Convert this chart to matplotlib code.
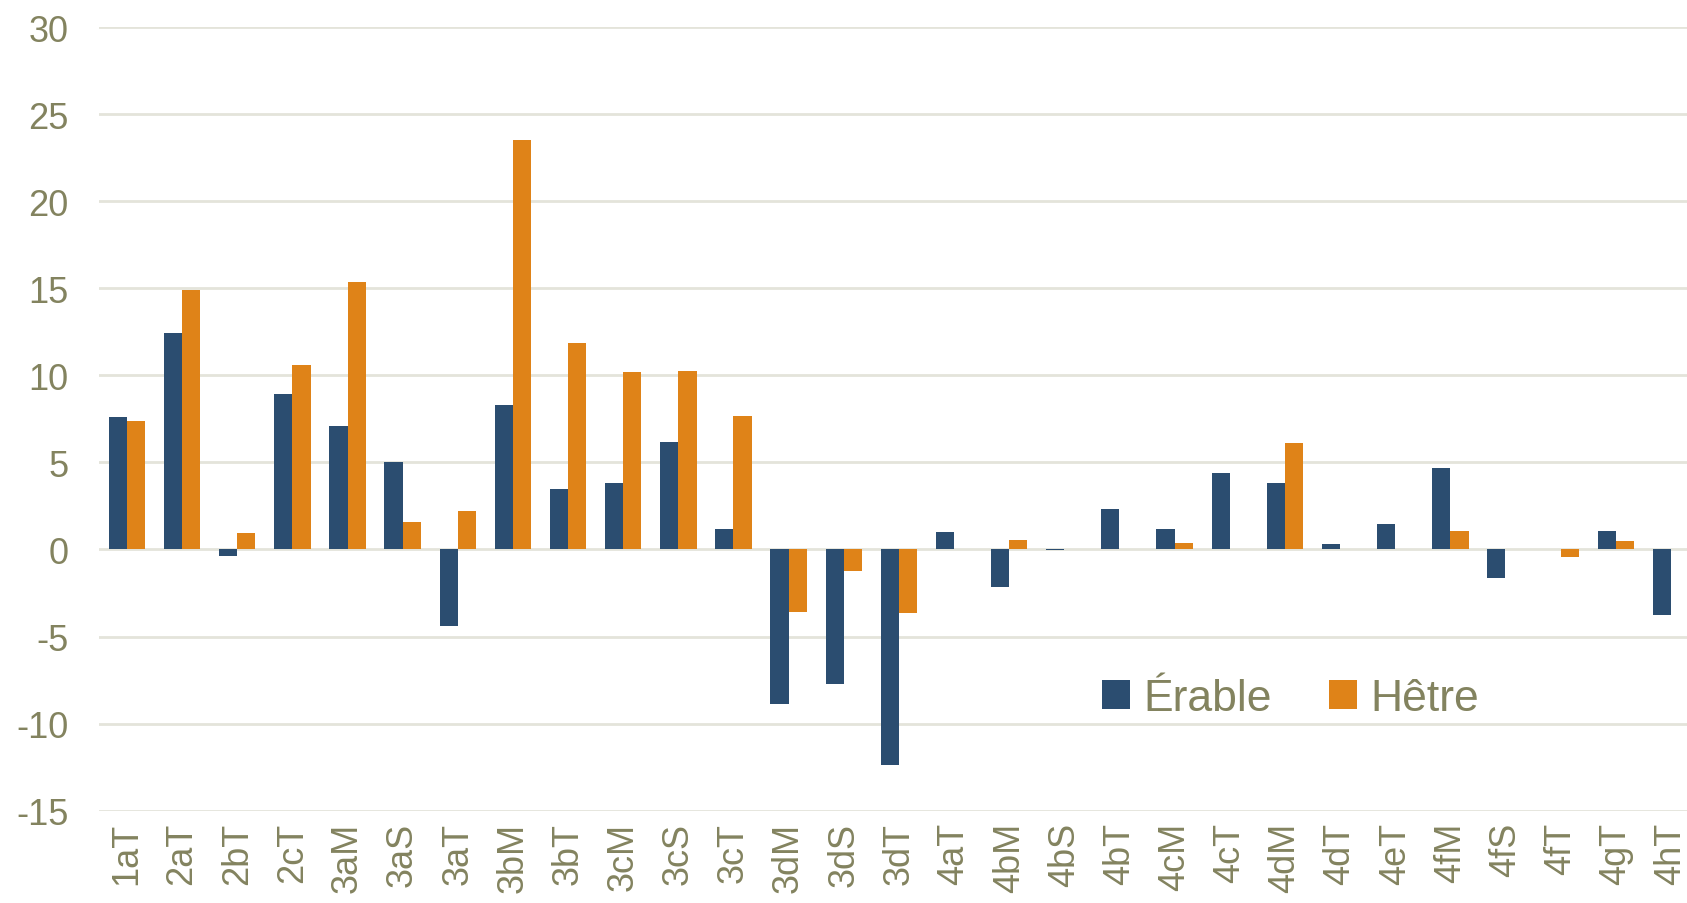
import numpy as np
import matplotlib.pyplot as plt

plt.rcParams['font.family'] = ['Liberation Sans', 'DejaVu Sans']
plt.rcParams['axes.unicode_minus'] = False

categories = ["1aT", "2aT", "2bT", "2cT", "3aM", "3aS", "3aT", "3bM", "3bT", "3cM",
              "3cS", "3cT", "3dM", "3dS", "3dT", "4aT", "4bM", "4bS", "4bT", "4cM",
              "4cT", "4dM", "4dT", "4eT", "4fM", "4fS", "4fT", "4gT", "4hT"]
erable = [7.6, 12.45, -0.4, 8.9, 7.1, 5.05, -4.4, 8.3, 3.5, 3.8,
          6.2, 1.2, -8.9, -7.7, -12.35, 1.0, -2.15, -0.05, 2.3, 1.2,
          4.4, 3.8, 0.3, 1.45, 4.65, -1.65, 0.02, 1.05, -3.75]
hetre = [7.4, 14.9, 0.95, 10.6, 15.35, 1.6, 2.2, 23.5, 11.85, 10.2,
         10.25, 7.65, -3.6, -1.25, -3.65, 0.0, 0.55, 0.0, 0.0, 0.35,
         0.0, 6.1, 0.05, 0.0, 1.05, 0.0, -0.45, 0.5, 0.0]

col_e = "#2B4D70"
col_h = "#DF8318"
txt = "#83835F"
grid = "#E4E4DA"

fig = plt.figure(figsize=(16.87, 9.04), dpi=100)
ax = fig.add_axes([0.0589, 0.1021, 0.9479, 0.8669])

x = np.arange(len(categories))
w = 0.33
ax.bar(x - w/2, erable, w, color=col_e, label="Érable", zorder=3)
ax.bar(x + w/2, hetre, w, color=col_h, label="Hêtre", zorder=3)

ax.set_xlim(-0.5, len(categories) - 0.5)
ax.set_ylim(-15, 30)
ax.set_yticks(range(-15, 31, 5))
ax.yaxis.grid(True, color=grid, linewidth=2, zorder=0)
ax.set_axisbelow(True)
for s in ax.spines.values():
    s.set_visible(False)

ax.set_xticks(x)
ax.set_xticklabels(categories, rotation=90, va="top")
ax.tick_params(axis="x", length=0, pad=8, labelsize=26, labelcolor=txt)
ax.tick_params(axis="y", length=0, pad=22, labelsize=26, labelcolor=txt)

leg = ax.legend(loc="center left", bbox_to_anchor=(1062/1687, 0.226), bbox_transform=fig.transFigure,
                ncol=2, frameon=False, fontsize=32, labelcolor=txt, handlelength=0.62,
                handleheight=0.62, handletextpad=0.3, columnspacing=1.3)

fig.savefig("out.png", dpi=100)
